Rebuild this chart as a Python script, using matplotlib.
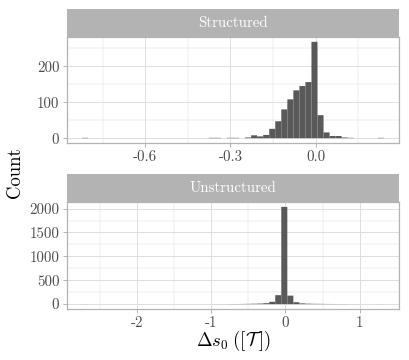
import matplotlib
matplotlib.use("Agg")
import matplotlib.pyplot as plt
import numpy as np

plt.rcParams['font.family'] = ['cmr10', 'DejaVu Serif']
plt.rcParams['mathtext.fontset'] = 'cm'
plt.rcParams['axes.unicode_minus'] = False

# ---------------- data ----------------
panel_titles = ["Structured", "Unstructured"]

# Structured: 50 bins
s_bin_start = -0.822
s_bin_width = 0.02124
s_counts = [1, 0, 0, 0, 0, 0, 0, 0, 0, 0,
            0, 0, 0, 0, 0, 0, 0, 0, 0, 0,
            0, 1, 1, 0, 1, 1, 0, 2, 8, 5,
            9, 26, 47, 80, 108, 133, 145, 156, 268, 64,
            16, 6, 6, 2, 1, 0, 0, 0, 0, 1]
s_xticks = [-0.6, -0.3, 0.0]
s_xticklabels = ["-0.6", "-0.3", "0.0"]
s_xminor = [-0.75, -0.45, -0.15, 0.15]
s_yticks = [0, 100, 200]
s_yticklabels = ["0", "100", "200"]
s_yminor = [50, 150, 250]

# Unstructured: 50 bins
u_bin_start = -2.739
u_bin_width = 0.0813
u_counts = [1, 0, 0, 0, 0, 0, 0, 0, 0, 0,
            0, 0, 0, 0, 0, 0, 0, 0, 0, 0,
            0, 0, 1, 1, 2, 3, 4, 6, 9, 12,
            20, 49, 188, 2036, 178, 40, 16, 10, 7, 6,
            4, 3, 2, 2, 1, 1, 0, 0, 0, 1]
u_xticks = [-2, -1, 0, 1]
u_xticklabels = ["-2", "-1", "0", "1"]
u_xminor = [-2.5, -1.5, -0.5, 0.5]
u_yticks = [0, 500, 1000, 1500, 2000]
u_yticklabels = ["0", "500", "1000", "1500", "2000"]
u_yminor = [250, 750, 1250, 1750]

# ---------------- figure ----------------
W, H = 409, 360
fig = plt.figure(figsize=(W / 100, H / 100), dpi=100)

def fx(px):
    return px / W

def fy(py):
    return 1 - py / H

left, right = 67, 399
panels = [
    dict(strip=(9, 37), ax=(37, 143), start=s_bin_start, width=s_bin_width, counts=s_counts,
         xt=s_xticks, xtl=s_xticklabels, xm=s_xminor, yt=s_yticks, ytl=s_yticklabels, ym=s_yminor),
    dict(strip=(174, 202), ax=(202, 309), start=u_bin_start, width=u_bin_width, counts=u_counts,
         xt=u_xticks, xtl=u_xticklabels, xm=u_xminor, yt=u_yticks, ytl=u_yticklabels, ym=u_yminor),
]

grid_col = "#dedede"
border_col = "#b3b3b3"
bar_col = "#595959"

for title, p in zip(panel_titles, panels):
    t0, t1 = p["ax"]
    ax = fig.add_axes([fx(left), fy(t1), fx(right) - fx(left), fy(t0) - fy(t1)])
    counts = np.array(p["counts"], dtype=float)
    n = len(counts)
    lefts = p["start"] + p["width"] * np.arange(n)
    bars = ax.bar(lefts, counts, width=p["width"], align="edge", color=bar_col,
                  edgecolor="none", linewidth=0, zorder=3)
    for b in bars:
        b.set_snap(False)
    lo = p["start"]
    hi = p["start"] + p["width"] * n
    span = hi - lo
    ax.set_xlim(lo - 0.05 * span, hi + 0.05 * span)
    cmax = counts.max()
    ax.set_ylim(-0.05 * cmax, 1.05 * cmax)

    ax.set_xticks(p["xt"])
    ax.set_xticklabels(p["xtl"])
    ax.set_xticks(p["xm"], minor=True)
    ax.set_yticks(p["yt"])
    ax.set_yticklabels(p["ytl"])
    ax.set_yticks(p["ym"], minor=True)

    ax.grid(True, which="major", color=grid_col, linewidth=0.7, zorder=0)
    ax.grid(True, which="minor", color=grid_col, linewidth=0.35, zorder=0)
    ax.set_axisbelow(True)
    for s in ax.spines.values():
        s.set_color(border_col)
        s.set_linewidth(0.9)
    ax.tick_params(which="major", length=3.0, width=0.7, color=border_col,
                   labelsize=10.8, labelcolor="#4d4d4d", pad=2.5)
    ax.tick_params(which="minor", length=0)

    s0, s1 = p["strip"]
    sax = fig.add_axes([fx(left), fy(s1), fx(right) - fx(left), fy(s0) - fy(s1)])
    sax.set_facecolor("#b3b3b3")
    sax.set_xticks([])
    sax.set_yticks([])
    for s in sax.spines.values():
        s.set_visible(False)
    sax.text(0.5, 0.5, title, transform=sax.transAxes, ha="center", va="center",
             color="white", fontsize=10.8)

fig.text(fx(15), fy(173), "Count", rotation=90, ha="center", va="center", fontsize=13.5)
fig.text(fx(233), fy(341), r"$\Delta s_0\;([\mathcal{T}\,])$", ha="center", va="center", fontsize=13.5)

fig.savefig("out.png", dpi=100)
